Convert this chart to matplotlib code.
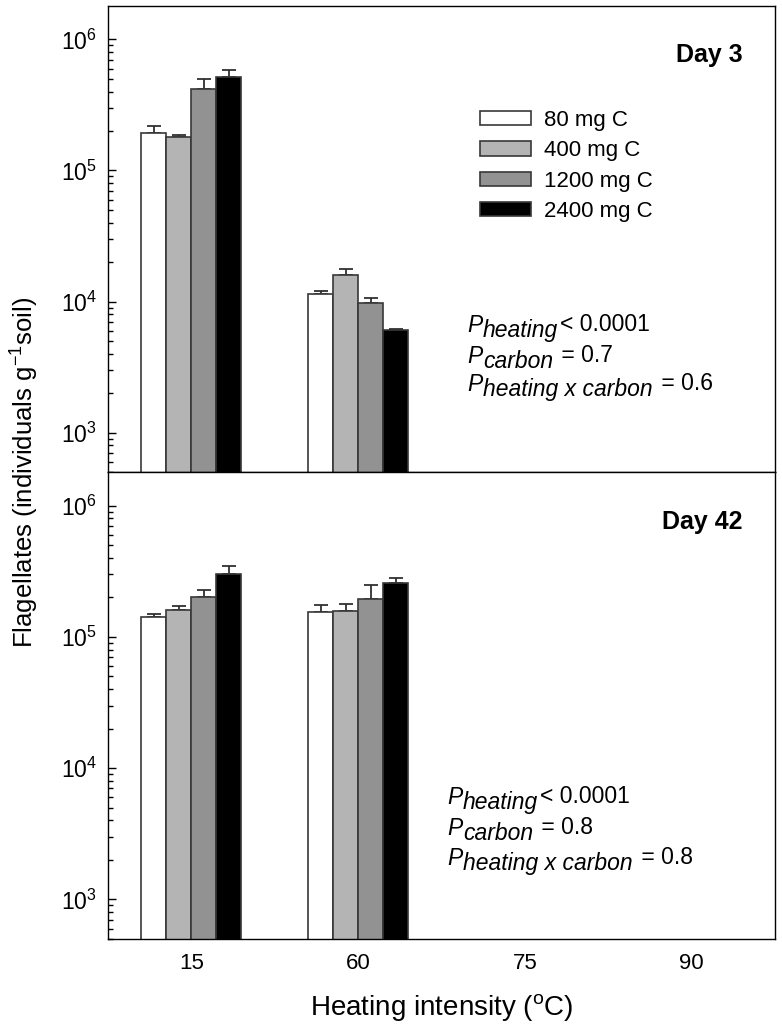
import matplotlib.pyplot as plt
import numpy as np

plt.rcParams['font.family'] = ['Liberation Sans', 'DejaVu Sans']
plt.rcParams['mathtext.fontset'] = 'custom'
plt.rcParams['mathtext.rm'] = 'Liberation Sans'
plt.rcParams['mathtext.it'] = 'Liberation Sans:italic'

heating = ['15', '60', '75', '90']
carbon = ['80 mg C', '400 mg C', '1200 mg C', '2400 mg C']
colors = ['white', '#b4b4b4', '#929292', 'black']

# values only exist for 15 and 60 degrees; rows follow the carbon levels
day3 = [[1.92e5, 1.15e4],
        [1.80e5, 1.59e4],
        [4.16e5, 9.7e3],
        [5.19e5, 6.1e3]]
day3_err = [[2.6e4, 5e2],
            [8e3, 1.7e3],
            [8e4, 9e2],
            [7e4, 1e2]]
day42 = [[1.41e5, 1.55e5],
         [1.60e5, 1.58e5],
         [2.00e5, 1.93e5],
         [2.99e5, 2.59e5]]
day42_err = [[8e3, 1.9e4],
             [1.1e4, 1.9e4],
             [2.8e4, 5.5e4],
             [4.9e4, 2.2e4]]

p_day3 = [('heating', '< 0.0001'), ('carbon', ' = 0.7'), ('heating x carbon', ' = 0.6')]
p_day42 = [('heating', '< 0.0001'), ('carbon', ' = 0.8'), ('heating x carbon', ' = 0.8')]

W, H = 782, 1031
fig = plt.figure(figsize=(W / 100, H / 100), dpi=100)
ax1 = fig.add_axes([108 / W, 1 - 472 / H, 667 / W, 466 / H])
ax2 = fig.add_axes([108 / W, 1 - 939 / H, 667 / W, 467 / H])

width = 0.15


def draw_panel(ax, vals, errs):
    ax.set_yscale('log')
    for k in range(len(carbon)):
        x = np.arange(len(vals[k])) + (k - 1.5) * width
        ax.bar(x, vals[k], width, bottom=1, color=colors[k], edgecolor='#383838',
               linewidth=1.2, label=carbon[k], zorder=2)
        ax.errorbar(x, vals[k], yerr=[np.zeros(len(errs[k])), errs[k]], fmt='none',
                    ecolor='#303030', elinewidth=1.3, capsize=5, capthick=1.3, zorder=1)
    ax.set_ylim(500, 1.8e6)
    ax.set_xlim(-0.5, len(heating) - 0.5)
    ax.set_xticks(range(len(heating)))
    ax.set_xticklabels(heating)
    ax.tick_params(axis='y', which='major', direction='in', length=6, width=1,
                   labelsize=16.5, pad=8)
    ax.tick_params(axis='y', which='minor', direction='in', length=3.8, width=1)
    ax.tick_params(axis='x', length=0, labelsize=16, pad=10)
    for s in ax.spines.values():
        s.set_linewidth(1.0)


draw_panel(ax1, day3, day3_err)
draw_panel(ax2, day42, day42_err)
ax1.tick_params(axis='x', labelbottom=False)

ax1.legend(loc='upper left', bbox_to_anchor=(480 / W, 1 - 110 / H),
           bbox_transform=fig.transFigure, frameon=False, fontsize=16,
           handlelength=2.3, handleheight=0.62, handletextpad=0.6,
           labelspacing=0.42, borderpad=0, borderaxespad=0)

fig.text(743 / W, 1 - 55 / H, 'Day 3', ha='right', va='center', fontsize=18,
         fontweight='bold')
fig.text(743 / W, 1 - 522 / H, 'Day 42', ha='right', va='center', fontsize=18,
         fontweight='bold')


def p_values(ax, x, ys, lines):
    for y, (sub, rest) in zip(ys, lines):
        p = ax.text(x / W, 1 - y / H, 'P', transform=fig.transFigure, fontsize=16.5,
                    style='italic', va='baseline')
        s = ax.annotate(sub, xy=(1, 0), xycoords=p, xytext=(0.5, -3.6),
                        textcoords='offset points', fontsize=16.5, style='italic',
                        va='bottom')
        ax.annotate(rest, xy=(1, 0), xycoords=s, xytext=(1.5, 4.0),
                    textcoords='offset points', fontsize=16.5, va='bottom')


p_values(ax1, 467, [332, 363, 391], p_day3)
p_values(ax2, 447, [804, 835, 865], p_day42)

ax2.set_xlabel(r'Heating intensity ($^{\mathregular{o}}$C)', fontsize=20, labelpad=13)
fig.text(25 / W, 1 - 472 / H, r'Flagellates (individuals g$^{\mathregular{-1}}$soil)',
         rotation=90, ha='center', va='center', fontsize=18.5)

fig.savefig('out.png', dpi=100)
